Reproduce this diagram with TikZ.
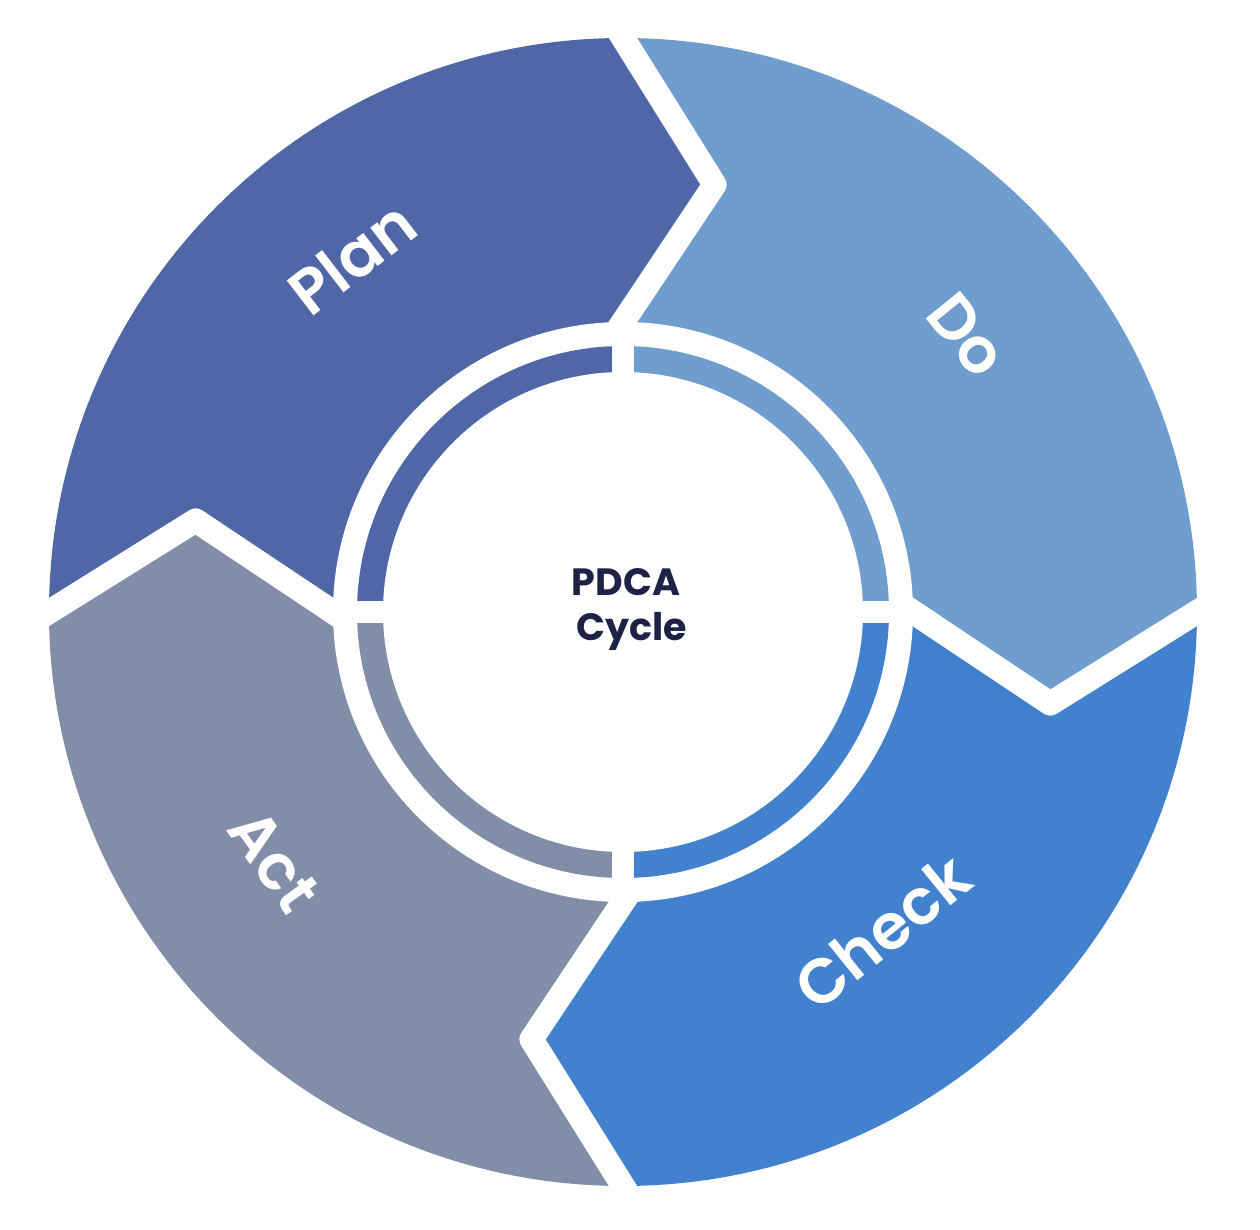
\documentclass[tikz,border=0pt]{standalone}
\usepackage{fontspec}
\setmainfont{Poppins}
\newfontfamily\phasefont{Poppins SemiBold}
\usetikzlibrary{calc}

\definecolor{plancol}{HTML}{4F67A6}
\definecolor{docol}{HTML}{6F9DCD}
\definecolor{checkcol}{HTML}{4281CE}
\definecolor{actcol}{HTML}{828DA7}
\definecolor{navy}{HTML}{1E2246}

\tikzset{
  separator/.style={draw=white, line width=24, line join=round},
  phaselabel/.style={text=white, font=\phasefont\fontsize{63}{63}\selectfont, inner sep=0pt},
  centrelabel/.style={text=navy, align=center, font=\bfseries\fontsize{38}{45}\selectfont, inner sep=0pt}
}

\begin{document}
\begin{tikzpicture}[x=1pt, y=1pt]
  \useasboundingbox (-623,-618) rectangle (637,612);

  % outer ring: four chevron-shaped quadrants
  \begin{scope}
    \clip (0,0) circle (574);
    \foreach \s/\e/\c in {180/90/plancol, 90/0/docol, 0/-90/checkcol, -90/-180/actcol}{
      \coordinate (Ts) at (\s-12.1:437);
      \coordinate (Te) at (\e-12.1:437);
      \fill[\c] (0,0) -- (\s:290) -- (Ts) -- ($(Ts)!2!(\s:574)$)
        -- (\s-45:900) -- ($(Te)!2!(\e:574)$) -- (Te) -- (\e:290) -- cycle;
    }
  \end{scope}

  % white chevron separators between the phases
  \foreach \t in {90,0,-90,180}{
    \coordinate (tip) at (\t-12.1:437);
    \coordinate (outer) at (\t:574);
    \coordinate (inner) at (\t:290);
    \draw[separator] ($(tip)!1.5!(outer)$) -- (tip) -- ($(tip)!1.4!(inner)$);
  }

  % hollow centre
  \fill[white] (0,0) circle (290);

  % inner progress ring
  \foreach \s/\e/\c in {180/90/plancol, 90/0/docol, 0/-90/checkcol, -90/-180/actcol}{
    \fill[\c] (0,0) -- (\s:266) arc[start angle=\s, end angle=\e, radius=266] -- cycle;
  }
  \fill[white] (0,0) circle (240);
  \fill[white] (-11,-272) rectangle (11,272);
  \fill[white] (-272,-11) rectangle (272,11);

  % phase names
  \node[phaselabel, rotate=37.5] (plan) at (-271,354) {Plan};
  \node[phaselabel, rotate=-51] (do) at (344,277) {Do};
  \node[phaselabel, rotate=39] (check) at (259,-320) {Check};
  \node[phaselabel, rotate=-54.5] (act) at (-349,-249) {Act};

  \node[centrelabel] (title) at (3,2) {PDCA\\\hspace*{12pt}Cycle};
\end{tikzpicture}
\end{document}
